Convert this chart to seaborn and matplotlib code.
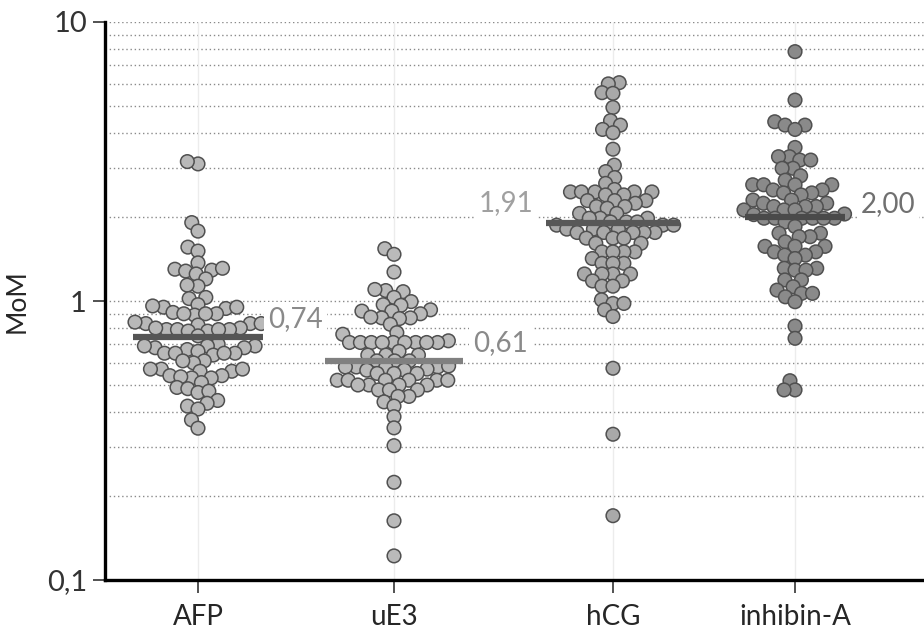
import numpy as np
import pandas as pd
import matplotlib
matplotlib.use("Agg")
import matplotlib.pyplot as plt
import seaborn as sns

# ---------------- data ----------------
categories = ["AFP", "uE3", "hCG", "inhibin-A"]

afp = [3.10, 3.16, 1.91, 1.78, 1.56, 1.51, 1.37, 1.30, 1.29, 1.31, 1.28, 1.25, 1.20,
       1.13, 1.14, 1.02, 1.03, 0.95, 0.96, 0.94, 0.95, 0.97, 0.90, 0.91, 0.89, 0.90, 0.90,
       0.83, 0.84, 0.82, 0.83, 0.83, 0.79, 0.80, 0.78, 0.79, 0.79, 0.78, 0.80, 0.79,
       0.75, 0.69, 0.68, 0.69, 0.70, 0.68, 0.69, 0.67, 0.65, 0.65, 0.66, 0.64, 0.65, 0.65,
       0.61, 0.60, 0.61, 0.57, 0.56, 0.57, 0.56, 0.57, 0.54, 0.53, 0.54, 0.535, 0.53,
       0.51, 0.49, 0.485, 0.47, 0.475, 0.44, 0.43, 0.42, 0.41, 0.375, 0.35]
ue3 = [1.54, 1.47, 1.27, 1.09, 1.10, 1.08, 1.03, 0.995, 0.97, 0.965, 0.92, 0.92, 0.93,
       0.90, 0.87, 0.87, 0.875, 0.865, 0.825, 0.77, 0.76, 0.72, 0.71, 0.71, 0.71, 0.71,
       0.71, 0.71, 0.71, 0.71, 0.71, 0.66, 0.64, 0.64, 0.64, 0.61, 0.61, 0.61, 0.58, 0.58,
       0.585, 0.58, 0.58, 0.565, 0.565, 0.57, 0.55, 0.55, 0.55, 0.52, 0.52, 0.52, 0.52,
       0.52, 0.52, 0.50, 0.50, 0.50, 0.50, 0.48, 0.48, 0.48, 0.455, 0.455, 0.435, 0.42,
       0.385, 0.351, 0.303, 0.224, 0.163, 0.122]
hcg = [6.06, 6.00, 5.58, 5.55, 4.94, 4.43, 4.27, 4.12, 4.01, 3.50, 3.07, 2.91, 2.77,
       2.64, 2.51, 2.46, 2.46, 2.46, 2.46, 2.46, 2.40, 2.40, 2.29, 2.29, 2.29, 2.24, 2.18,
       2.18, 2.15, 2.06, 2.06, 1.98, 1.98, 1.98, 1.92, 1.92, 1.92, 1.87, 1.87, 1.87, 1.81,
       1.81, 1.81, 1.76, 1.76, 1.76, 1.76, 1.76, 1.68, 1.68, 1.68, 1.61, 1.61, 1.50, 1.50,
       1.50, 1.50, 1.42, 1.365, 1.365, 1.365, 1.25, 1.25, 1.25, 1.25, 1.18, 1.18, 1.13,
       1.13, 1.01, 0.98, 0.98, 0.93, 0.88, 0.574, 0.333, 0.170]
inhibin = [7.83, 5.25, 4.39, 4.27, 4.27, 4.12, 3.55, 3.29, 3.29, 3.20, 3.20, 2.99, 2.99,
           2.81, 2.71, 2.61, 2.61, 2.61, 2.61, 2.50, 2.50, 2.44, 2.44, 2.40, 2.30, 2.30,
           2.24, 2.24, 2.18, 2.18, 2.18, 2.12, 2.12, 2.12, 2.05, 2.04, 1.98, 1.98, 1.98,
           1.98, 1.98, 1.98, 1.92, 1.85, 1.75, 1.75, 1.70, 1.70, 1.63, 1.57, 1.57, 1.57,
           1.50, 1.50, 1.46, 1.46, 1.42, 1.31, 1.31, 1.29, 1.29, 1.19, 1.19, 1.125, 1.094,
           1.065, 1.065, 1.035, 0.994, 0.813, 0.735, 0.518, 0.48, 0.48]
medians = [0.74, 0.61, 1.91, 2.00]
y_ticks = [0.1, 1, 10]
y_tick_labels = ["0,1", "1", "10"]
y_label = "MoM"

# ---------------- layout / style ----------------
xpos = {"AFP": 1.0, "uE3": 2.0, "hCG": 3.117, "inhibin-A": 4.046}
point_colors = {"AFP": "#b8b8b8", "uE3": "#bababa", "hCG": "#a9a9a9", "inhibin-A": "#8a8a8a"}
line_colors = ["#555555", "#808080", "#585858", "#4a4a4a"]
label_colors = ["#8a8a8a", "#8a8a8a", "#a0a0a0", "#707070"]
half_w = [0.33, 0.35, 0.34, 0.255]
label_side = ["right", "right", "left", "right"]
label_gap = [0.03, 0.055, 0.065, 0.08]
label_dy = [13, 13, 14, 9]

values = [afp, ue3, hcg, inhibin]
df = pd.DataFrame({
    "cat": np.concatenate([[c] * len(v) for c, v in zip(categories, values)]),
    "val": np.concatenate(values),
})
df["x"] = df["cat"].map(xpos)

sns.set_theme(style="white")
plt.rcParams["font.family"] = ["Lato", "DejaVu Sans"]

fig = plt.figure(figsize=(9.24, 6.34), dpi=100)
ax = fig.add_axes([105 / 924, 54 / 634, 1 - 105 / 924, (580 - 22) / 634])
ax.set_yscale("log")
ax.set_ylim(0.1, 10)
ax.set_xlim(0.5255, 4.704)

# grid
for v in [0.2, 0.3, 0.4, 0.5, 0.6, 0.7, 0.8, 0.9, 1, 2, 3, 4, 5, 6, 7, 8, 9, 10]:
    ax.axhline(v, color="#8a8a8a", lw=1.0, ls=(0, (1, 2)), zorder=0)
for c in categories:
    ax.axvline(xpos[c], color="#ececec", lw=1.0, zorder=0)

# swarm laid out with a compact spacing, then markers drawn at full size (overlapping, as in the original)
sns.swarmplot(data=df, x="x", y="val", hue="cat", palette=point_colors,
              native_scale=True, size=6.4, linewidth=1.1, edgecolor="#505050",
              legend=False, ax=ax, zorder=3)
fig.canvas.draw()  # seaborn computes the swarm offsets at draw time
for coll in ax.collections:
    if "draw" in coll.__dict__:
        del coll.draw  # freeze the computed swarm layout
    coll.set_sizes([9.8 ** 2])
    coll.set_linewidth(1.1)
    coll.set_edgecolor("#505050")

for i, c in enumerate(categories):
    p = xpos[c]
    ax.plot([p - half_w[i], p + half_w[i]], [medians[i], medians[i]],
            color=line_colors[i], lw=4.5, solid_capstyle="butt", zorder=5)
    txt = f"{medians[i]:.2f}".replace(".", ",")
    if label_side[i] == "right":
        tx, ha = p + half_w[i] + label_gap[i], "left"
    else:
        tx, ha = p - half_w[i] - label_gap[i], "right"
    ax.annotate(txt, xy=(tx, medians[i]), xytext=(0, label_dy[i]), textcoords="offset points",
                ha=ha, va="center", fontsize=20, color=label_colors[i], zorder=6,
                bbox=dict(boxstyle="square,pad=0.15", fc="white", ec="none"))

ax.set_xticks([xpos[c] for c in categories])
ax.set_xticklabels(categories, fontsize=20)
ax.set_yticks(y_ticks)
ax.set_yticklabels(y_tick_labels, fontsize=21, color="#333333")
ax.yaxis.set_minor_locator(matplotlib.ticker.NullLocator())
ax.tick_params(axis="both", which="major", length=9, width=1.2, color="#333333",
               direction="out", left=True, bottom=True, pad=4)
ax.tick_params(axis="x", pad=8)
ax.set_xlabel("")
ax.set_ylabel(y_label, fontsize=19)
ax.yaxis.set_label_coords(-0.092, 0.5)

for s in ["top", "right"]:
    ax.spines[s].set_visible(False)
for s in ["left", "bottom"]:
    ax.spines[s].set_color("black")
    ax.spines[s].set_linewidth(2.4)

fig.savefig("out.png", dpi=100)
